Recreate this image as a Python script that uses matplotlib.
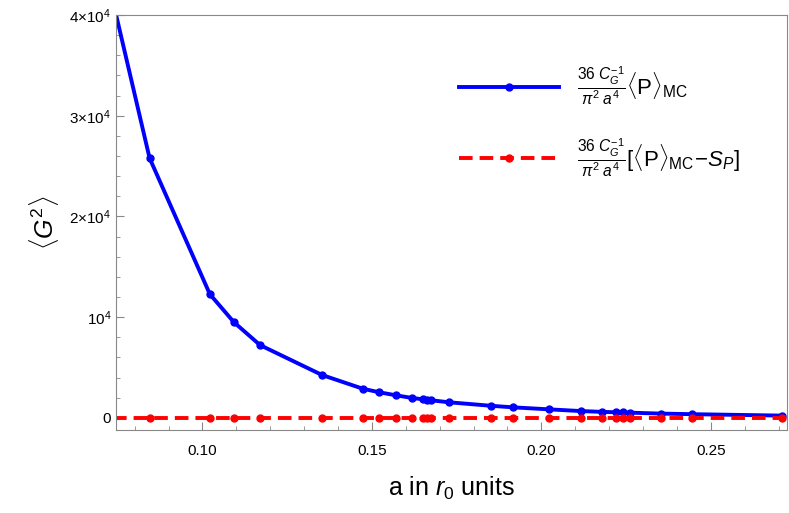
import matplotlib
matplotlib.use("Agg")
import matplotlib.pyplot as plt
from matplotlib.ticker import FixedLocator, MultipleLocator

plt.rcParams['font.family'] = 'Liberation Sans'
plt.rcParams['mathtext.fontset'] = 'custom'
plt.rcParams['mathtext.rm'] = 'Liberation Sans'
plt.rcParams['mathtext.it'] = 'Liberation Sans:italic'

a_vals = [0.0735, 0.0844, 0.1022, 0.1093, 0.117, 0.1353, 0.1473, 0.1521, 0.157, 0.1619, 0.165,
          0.1664, 0.1675, 0.1728, 0.1853, 0.1917, 0.2023, 0.2117, 0.2179, 0.222, 0.2241,
          0.2263, 0.2352, 0.2446, 0.2710]
g2_mc = [41500, 25800, 12280, 9500, 7230, 4260, 2900, 2550, 2250, 1980, 1850,
         1800, 1750, 1550, 1200, 1050, 850, 680, 600, 560, 540,
         520, 430, 370, 230]
g2_sub = [-30] * len(a_vals)
yticks = [0, 10000, 20000, 30000, 40000]
ytick_labels = ['0', r'$10^4$', r'$2{\times}10^4$', r'$3{\times}10^4$', r'$4{\times}10^4$']
xticks = [0.10, 0.15, 0.20, 0.25]

fig = plt.figure(figsize=(7.89, 5.13), dpi=100)
ax = fig.add_axes([116/789, 1 - 430/513, (787-116)/789, (430-15)/513])
ax.plot(a_vals, g2_mc, color='#0000ff', lw=2.8, marker='o', ms=5,
        label=r'$\frac{36\ C_G^{-1}}{\pi^2\ a^4}\langle\mathrm{P}\rangle_{\mathrm{MC}}$')
ax.plot(a_vals, g2_sub, color='#ff0000', lw=2.8, ls=(0, (3.5, 1.8)), marker='o', ms=5,
        label=r'$\frac{36\ C_G^{-1}}{\pi^2\ a^4}[\langle\mathrm{P}\rangle_{\mathrm{MC}}\!-\!S_P]$')
ax.set_xlim(0.0745, 0.2725)
ax.set_ylim(-1200, 40000)
ax.set_yticks(yticks)
ax.set_yticklabels(ytick_labels)
ax.set_xticks(xticks)
ax.set_xticklabels(['0.10', '0.15', '0.20', '0.25'])
ax.xaxis.set_minor_locator(MultipleLocator(0.01))
ax.yaxis.set_minor_locator(MultipleLocator(2000))
ax.tick_params(labelsize=11, color='#888888', direction='in', length=6)
ax.tick_params(which='minor', color='#888888', direction='in', length=3)
ax.tick_params(axis='x', pad=10)
for s in ax.spines.values():
    s.set_color('#888888')
ax.set_xlabel(r'a in $r_0$ units', fontsize=18, labelpad=12)
ax.set_ylabel(r'$\langle G^2\rangle$', fontsize=18, labelpad=6)
ax.legend(loc='upper right', bbox_to_anchor=(0.96, 0.93), frameon=False, fontsize=16,
          handlelength=4.5, labelspacing=1.3)
fig.savefig('out.png', dpi=100)
